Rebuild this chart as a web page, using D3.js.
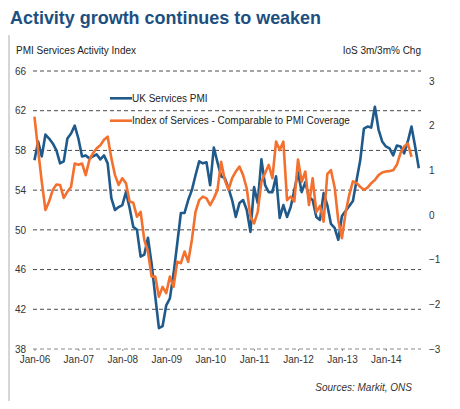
<!DOCTYPE html>
<html>
<head>
<meta charset="utf-8">
<script src="https://cdn.jsdelivr.net/npm/d3@7"></script>
<style>
  body { margin: 0; background: #fff; }
  svg { font-family: "Liberation Sans", Arial, sans-serif; }
  .grid line { stroke-dasharray: 4,3; }
  .axis text { fill: #333; font-size: 10px; }
</style>
</head>
<body>
<svg width="460" height="409"></svg>
<script>
// year labels on the category axis (one every 12 months, starting Jan-06)
const yearLabels = ["Jan-06", "Jan-07", "Jan-08", "Jan-09", "Jan-10", "Jan-11", "Jan-12", "Jan-13", "Jan-14"];

// UK Services PMI, monthly Jan-06 .. Oct-14 (left axis)
const pmi = [
  57.0, 58.9, 57.4, 59.6, 59.2, 58.7, 58.0, 56.7, 56.9, 59.2, 59.7, 60.5,
  59.2, 57.4, 57.5, 57.2, 57.4, 57.6, 57.1, 57.5, 56.7, 53.2, 52.0, 52.3,
  52.5, 53.8, 52.2, 50.3, 50.0, 47.3, 47.5, 49.2, 46.6, 43.3, 40.1, 40.3,
  42.4, 43.1, 45.6, 48.6, 51.7, 51.7, 53.0, 54.0, 55.5, 56.9, 56.7, 56.8,
  54.5, 58.3, 56.8, 55.4, 55.2, 54.2, 53.0, 51.3, 52.7, 53.0, 52.0, 49.8,
  54.3, 52.7, 57.1, 54.5, 53.8, 53.8, 55.4, 51.2, 52.5, 51.3, 52.3, 54.0,
  55.8, 53.8, 54.8, 53.3, 53.0, 51.3, 51.0, 53.7, 52.5, 50.6, 50.2, 49.0,
  51.4, 51.9, 52.4, 52.9, 55.0, 57.0, 60.2, 60.4, 60.3, 62.4, 60.1, 58.9,
  58.4, 58.2, 57.5, 58.5, 58.4, 57.7, 58.9, 60.4, 58.4, 56.2
];

// Index of Services 3m/3m % change, monthly Jan-06 .. Aug-14 (right axis)
const ios = [
  2.20, 1.45, 0.74, 0.11, 0.30, 0.56, 0.68, 0.67, 0.38, 0.52, 0.63, 1.15,
  1.12, 1.15, 0.89, 1.23, 1.38, 1.49, 1.56, 1.68, 1.75, 1.27, 0.89, 0.67,
  0.82, 0.71, 0.30, 0.27, -0.04, 0.07, -0.56, -0.82, -1.38, -1.38, -1.83, -1.61,
  -1.75, -1.38, -1.61, -1.05, -1.08, -0.82, -1.05, -0.56, 0.07, 0.33, 0.41, 0.37,
  0.22, 0.37, 0.56, 1.19, 0.78, 0.56, 0.82, 0.97, 1.08, 0.89, 0.59, -0.04,
  -0.19, 0.07, 0.74, 0.93, 1.12, 0.82, 1.64, 1.45, 1.64, 0.33, 0.41, 0.30,
  1.24, 0.74, 0.97, 0.22, 0.82, 0.06, 0.20, -0.15, 0.91, 1.00, 0.62, -0.12,
  -0.52, 0.05, 0.45, 0.75, 0.71, 0.63, 0.56, 0.61, 0.71, 0.78, 0.89, 0.95,
  0.97, 0.98, 1.00, 1.12, 1.38, 1.53, 1.60, 1.30
];

const leftTicks = [38, 42, 46, 50, 54, 58, 62, 66];
const rightTicks = [-3, -2, -1, 0, 1, 2, 3];

const svg = d3.select("svg");

const plotLeft = 33, plotRight = 421, plotTop = 71, plotBottom = 349;

const x = d3.scaleLinear().domain([-0.4, 105.6]).range([plotLeft, plotRight]);
const yL = d3.scaleLinear().domain([38, 66]).range([plotBottom, plotTop]);
const yR = d3.scaleLinear().domain([-3, 3]).range([plotBottom, 80.8]);

// frame line on the left
svg.append("line")
    .attr("x1", 9).attr("x2", 9).attr("y1", 35).attr("y2", 401)
    .attr("stroke", "#c8c8c8").attr("stroke-width", 1.5);

// title
svg.append("text")
    .attr("x", 10).attr("y", 24)
    .attr("textLength", 311).attr("lengthAdjust", "spacingAndGlyphs")
    .attr("font-size", 19).attr("font-weight", "bold")
    .attr("fill", "#1c4f80")
    .text("Activity growth continues to weaken");

svg.append("text")
    .attr("x", 16).attr("y", 53.5)
    .attr("font-size", 10).attr("fill", "#222")
    .text("PMI Services Activity Index");

svg.append("text")
    .attr("x", 421).attr("y", 53.5)
    .attr("text-anchor", "end")
    .attr("font-size", 10).attr("fill", "#222")
    .text("IoS 3m/3m% Chg");

// gridlines
svg.append("g")
    .attr("class", "grid")
    .selectAll("line")
    .data(leftTicks)
    .enter().append("line")
    .attr("x1", plotLeft).attr("x2", plotRight)
    .attr("y1", d => yL(d)).attr("y2", d => yL(d))
    .attr("stroke", d => d === 38 ? "#888" : "#4a4a4a");

// axes
const gLeft = svg.append("g")
    .attr("class", "axis")
    .attr("transform", `translate(${plotLeft},0)`)
    .call(d3.axisLeft(yL).tickValues(leftTicks).tickSize(0).tickPadding(7));

const gRight = svg.append("g")
    .attr("class", "axis")
    .attr("transform", `translate(${plotRight},0)`)
    .call(d3.axisRight(yR).tickValues(rightTicks).tickFormat(d3.format("d")).tickSize(0).tickPadding(8));

const gBottom = svg.append("g")
    .attr("class", "axis")
    .attr("transform", `translate(0,${plotBottom})`)
    .call(d3.axisBottom(x)
        .tickValues(yearLabels.map((d, i) => i * 12))
        .tickFormat((d, i) => yearLabels[i])
        .tickSize(2).tickPadding(5));

[gLeft, gRight, gBottom].forEach(g => {
    g.select(".domain").remove();
    g.selectAll(".tick line").attr("stroke", "#888");
});

// series
const linePmi = d3.line().x((d, i) => x(i)).y(d => yL(d));
const lineIos = d3.line().x((d, i) => x(i)).y(d => yR(d));

svg.append("path")
    .datum(pmi)
    .attr("d", linePmi)
    .attr("fill", "none")
    .attr("stroke", "#1f5a8b")
    .attr("stroke-width", 2.6)
    .attr("stroke-linejoin", "round");

svg.append("path")
    .datum(ios)
    .attr("d", lineIos)
    .attr("fill", "none")
    .attr("stroke", "#f4702e")
    .attr("stroke-width", 2.6)
    .attr("stroke-linejoin", "round");

// legend
const legend = [
    { name: "UK Services PMI", color: "#1f5a8b", y: 98.3 },
    { name: "Index of Services - Comparable to PMI Coverage", color: "#f4702e", y: 120.7 }
];

const lg = svg.append("g").selectAll("g")
    .data(legend)
    .enter().append("g");

lg.append("line")
    .attr("x1", 110).attr("x2", 132)
    .attr("y1", d => d.y).attr("y2", d => d.y)
    .attr("stroke", d => d.color).attr("stroke-width", 2.6);

lg.append("text")
    .attr("x", 132).attr("y", d => d.y + 3.5)
    .attr("font-size", 10).attr("fill", "#222")
    .text(d => d.name);

// source note
svg.append("text")
    .attr("x", 412).attr("y", 391)
    .attr("text-anchor", "end")
    .attr("font-size", 10).attr("font-style", "italic")
    .attr("fill", "#333")
    .text("Sources: Markit, ONS");
</script>
</body>
</html>
